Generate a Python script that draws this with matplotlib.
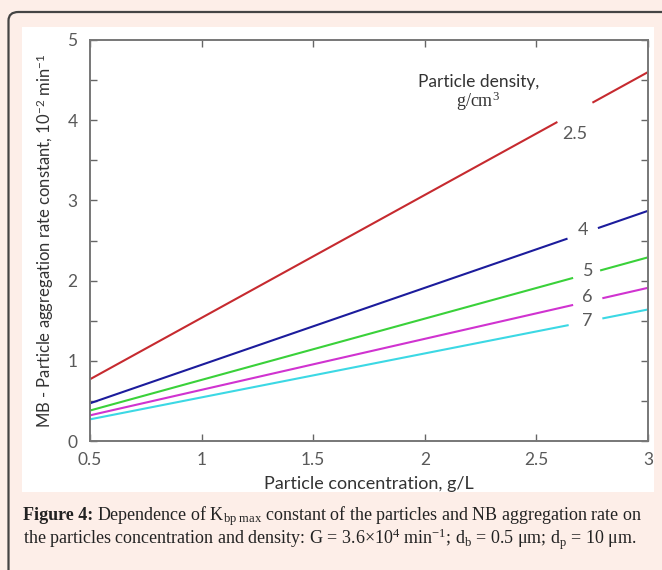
import matplotlib
matplotlib.use("Agg")
import matplotlib.pyplot as plt
from matplotlib.patches import FancyBboxPatch, Rectangle

plt.rcParams['mathtext.fontset'] = 'custom'
plt.rcParams['mathtext.rm'] = 'Liberation Serif'
plt.rcParams['mathtext.bf'] = 'Liberation Serif:bold'
plt.rcParams['mathtext.it'] = 'Liberation Serif:italic'
plt.rcParams['mathtext.sf'] = 'Lato'

sans = 'Lato'
grey = '#595959'

# particle density, g/cm3 and line labels
densities = ['2.5', '4', '5', '6', '7']
colors = ['#c62a2f', '#1c1c9c', '#3ad13a', '#d033d0', '#3cd8e4']

# concentration end points (g/L)
conc = [0.5, 3.0]
# rate constant at the end points, 10^-2 min^-1
k_start = [0.77, 0.47, 0.38, 0.32, 0.27]
k_end = [4.60, 2.87, 2.29, 1.91, 1.64]

# gap in each line where the label sits (concentration range)
gap_lo = [2.59, 2.635, 2.66, 2.66, 2.64]
gap_hi = [2.755, 2.78, 2.79, 2.80, 2.80]
label_x = [2.67, 2.71, 2.73, 2.73, 2.73]
label_y = [3.83, 2.63, 2.12, 1.80, 1.50]

fig = plt.figure(figsize=(6.62, 5.70), dpi=100, facecolor='#fdeee8')

# frame of the figure panel
fig.patches.append(FancyBboxPatch((8.5 / 662, -0.2), 1.2, 1.2 - 12 / 570,
                                  boxstyle='round,pad=0,rounding_size=0.015',
                                  transform=fig.transFigure, facecolor='#fdeee8',
                                  edgecolor='#444444', linewidth=1.6, zorder=-2))
fig.patches.append(Rectangle((22 / 662, 1 - 492 / 570), (654 - 22) / 662, (492 - 27) / 570,
                             transform=fig.transFigure, facecolor='white',
                             edgecolor='none', zorder=-1))

ax = fig.add_axes([90 / 662, 1 - 441 / 570, (648 - 90) / 662, (441 - 40) / 570])
ax.set_facecolor('white')

for i in range(len(densities)):
    slope = (k_end[i] - k_start[i]) / (conc[1] - conc[0])
    ylo = k_start[i] + slope * (gap_lo[i] - conc[0])
    yhi = k_start[i] + slope * (gap_hi[i] - conc[0])
    ax.plot([conc[0], gap_lo[i]], [k_start[i], ylo], color=colors[i], lw=1.5)
    ax.plot([gap_hi[i], conc[1]], [yhi, k_end[i]], color=colors[i], lw=1.5)
    ax.text(label_x[i], label_y[i], densities[i], family=sans, fontsize=13,
            color=grey, ha='center', va='center')

ax.text(2.24, 4.48, 'Particle density,', family=sans, fontsize=12.5, color='#333333',
        ha='center', va='center')
ax.text(2.24, 4.24, 'g/cm$^3$', family='Liberation Serif', fontsize=13, color='#333333',
        ha='center', va='center')

ax.set_xlim(0.5, 3)
ax.set_ylim(0, 5)
ax.set_xticks([0.5, 1, 1.5, 2, 2.5, 3])
ax.set_xticklabels(['0.5', '1', '1.5', '2', '2.5', '3'])
ax.set_yticks([0, 0.5, 1, 1.5, 2, 2.5, 3, 3.5, 4, 4.5, 5])
ax.set_yticklabels(['0', '', '1', '', '2', '', '3', '', '4', '', '5'])
ax.tick_params(direction='in', length=5, width=1, color='#666666', top=True, right=True,
               labelsize=12.5, labelcolor=grey)
ax.tick_params(axis='x', pad=8)
ax.tick_params(axis='y', pad=9)
for lab in ax.get_xticklabels() + ax.get_yticklabels():
    lab.set_family(sans)
for s in ax.spines.values():
    s.set_color('#777777')
    s.set_linewidth(1.4)

ax.set_xlabel('Particle concentration, g/L', family=sans, fontsize=13, color='#333333',
              labelpad=6)
ax.set_ylabel(r'MB - Particle aggregation rate constant, 10$^{\mathsf{-2}}$ min$^{\mathsf{-1}}$',
              family=sans, fontsize=12, color='#333333', labelpad=8)

# caption
cap_size = 13.0
t0 = fig.text(23 / 662, 1 - 516 / 570, 'Figure 4:', family='Liberation Serif',
              weight='bold', fontsize=cap_size, color='#222222', va='center')
r = fig.canvas.get_renderer()
bb = t0.get_window_extent(renderer=r)
fig.text((bb.x1 + 4) / 662, 1 - 516 / 570,
         r'Dependence of K$_{\mathrm{bp\ max}}$ constant of the particles and NB aggregation rate on',
         family='Liberation Serif', fontsize=cap_size, color='#222222', va='center')
fig.text(23 / 662, 1 - 539 / 570,
         r'the particles concentration and density: G = 3.6×10$^4$ min$^{-1}$; d$_{\mathrm{b}}$ = 0.5 μm; d$_{\mathrm{p}}$ = 10 μm.',
         family='Liberation Serif', fontsize=cap_size, color='#222222', va='center')

fig.savefig('out.png', dpi=100, facecolor=fig.get_facecolor())
